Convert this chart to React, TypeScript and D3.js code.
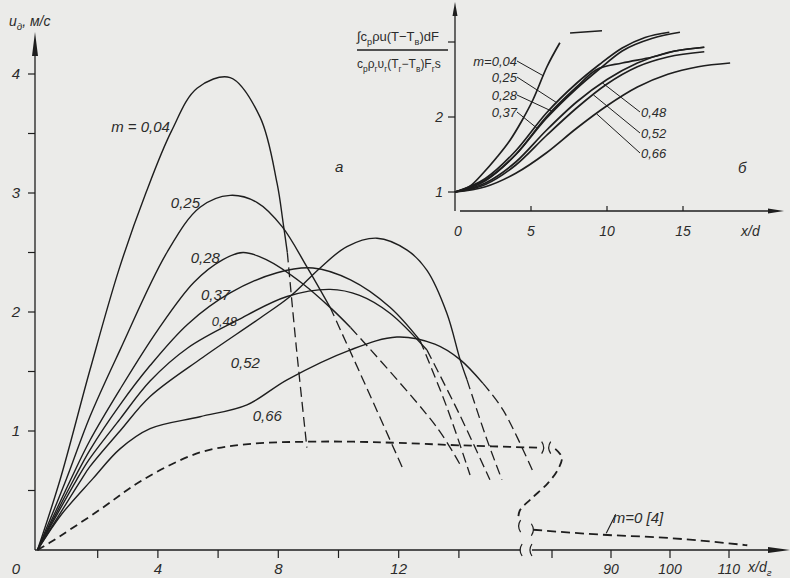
import * as d3 from 'd3';
import { useEffect, useRef } from 'react';

const W = 790;
const H = 578;
const bg = '#ebebe9';
const ink = '#1e1e1e';
const font = "'Liberation Sans', Arial, sans-serif";

type Pt = [number, number];

// main chart (а): u_д, m/s against x/d_г
const mLabels = ['m = 0,04', '0,25', '0,28', '0,37', '0,48', '0,52', '0,66'];
const m004: Pt[] = [[0, 0], [0.75, 0.59], [1.74, 1.51], [2.71, 2.36], [3.6, 3.0], [4.45, 3.52], [5.3, 3.88], [6.4, 3.97], [7.39, 3.64], [7.96, 3.08], [8.16, 2.75], [8.3, 2.5], [8.6, 1.7], [8.95, 0.86]];
const m025: Pt[] = [[0, 0], [0.95, 0.59], [1.74, 1.12], [2.74, 1.68], [4.3, 2.5], [5.4, 2.88], [6.4, 2.98], [7.3, 2.92], [8.12, 2.72], [8.95, 2.38], [9.72, 2.04], [10.71, 1.49], [12.18, 0.66]];
const m028: Pt[] = [[0, 0], [1.1, 0.59], [1.74, 0.92], [2.74, 1.35], [4, 1.85], [5.2, 2.25], [6.16, 2.44], [6.83, 2.5], [7.6, 2.44], [8.8, 2.24], [9.8, 2.02], [10.4, 1.87], [13.27, 1.03], [14.1, 0.69]];
const m037: Pt[] = [[0, 0], [1.2, 0.59], [1.74, 0.84], [2.74, 1.22], [3.74, 1.55], [5, 1.9], [6.4, 2.16], [7.96, 2.33], [9.15, 2.37], [10.4, 2.27], [11.71, 2.04], [12.71, 1.76], [13.6, 1.2], [14.37, 0.63]];
const m048: Pt[] = [[0, 0], [1.3, 0.59], [1.74, 0.77], [2.74, 1.1], [3.74, 1.42], [5, 1.7], [6.63, 1.93], [8.29, 2.13], [9.72, 2.19], [10.7, 2.14], [11.71, 1.99], [12.94, 1.68], [14, 1.15], [15.03, 0.59]];
const m052: Pt[] = [[0, 0], [1.45, 0.59], [1.74, 0.7], [2.74, 1.0], [3.74, 1.29], [5.5, 1.62], [7.4, 1.95], [8.39, 2.13], [9.39, 2.37], [10.28, 2.55], [11.28, 2.62], [12.28, 2.52], [12.94, 2.35], [13.6, 1.99], [14.04, 1.6], [14.27, 1.43], [14.9, 0.95], [15.43, 0.59]];
const m066: Pt[] = [[0, 0], [0.8, 0.3], [1.84, 0.6], [2.74, 0.85], [3.74, 1.02], [5.4, 1.12], [6.96, 1.22], [8.29, 1.43], [10.38, 1.68], [11.94, 1.79], [13.2, 1.73], [14.04, 1.6], [14.8, 1.4], [15.46, 1.18], [16.46, 0.66]];
const mainCurves = [m004, m025, m028, m037, m048, m052, m066];
// x/d_г where each solid line turns into dashes
const dashStart = [8.3, 9.72, 10.4, 12.71, 12.94, 14.27, 14.8];
// label anchor (end of text) in data units
const labelAt: Pt[] = [[4.4, 3.51], [5.4, 2.87], [6.06, 2.41], [6.4, 2.1], [6.63, 1.88], [7.39, 1.53], [8.12, 1.08]];

// m = 0 [4], dashed
const m0Near: Pt[] = [[0, 0], [0.4, 0.06], [2.08, 0.34], [3.5, 0.59], [5.4, 0.82], [7, 0.89], [8.95, 0.91], [10.5, 0.91], [12, 0.9], [14, 0.88], [16.6, 0.86]];
const m0Bridge: Pt[] = [[17.2, 0.85], [17.42, 0.78], [17.3, 0.68], [16.95, 0.56], [16.4, 0.43], [16.02, 0.33], [15.97, 0.25]];
const m0Far: Pt[] = [[76.8, 0.17], [88, 0.13], [100, 0.1], [113.1, 0.04]];

const xTicksLeft = [2, 4, 6, 8, 10, 12, 14];
const xLabelsLeft = [4, 8, 12];
const xTicksRight = [80, 90, 100, 110];
const xLabelsRight = [90, 100, 110];
const yTicks = [0.5, 1, 1.5, 2, 2.5, 3, 3.5, 4];
const yLabels = [1, 2, 3, 4];

// inset (б)
const iLabels = ['m=0,04', '0,25', '0,28', '0,37', '0,48', '0,52', '0,66'];
const i004: Pt[] = [[0, 1], [1, 1.08], [1.84, 1.25], [2.7, 1.45], [3.62, 1.69], [4.4, 1.95], [5.13, 2.23], [6.05, 2.67], [6.9, 2.99]];
const i004cap: Pt[] = [[7.57, 3.12], [9.67, 3.15]];
const i025: Pt[] = [[0, 1], [2, 1.18], [4, 1.55], [6, 2.05], [8, 2.45], [9.5, 2.7], [11, 2.92], [12.5, 3.06], [14.1, 3.13]];
const i028: Pt[] = [[0, 1], [2, 1.16], [4, 1.5], [6, 1.98], [8, 2.38], [9.5, 2.64], [11, 2.88], [13, 3.05], [14.8, 3.13]];
const i037: Pt[] = [[0, 1], [2, 1.15], [4, 1.5], [6, 2.0], [8, 2.4], [9.3, 2.63], [11, 2.72], [13, 2.8], [14.5, 2.88], [16.4, 2.93]];
const i048: Pt[] = [[0, 1], [2, 1.12], [4, 1.4], [6, 1.82], [8, 2.2], [10, 2.5], [12, 2.72], [14, 2.86], [16.4, 2.93]];
const i052: Pt[] = [[0, 1], [2, 1.1], [4, 1.36], [6, 1.75], [8, 2.12], [10, 2.44], [12, 2.67], [14, 2.8], [16.4, 2.87]];
const i066: Pt[] = [[0, 1], [2, 1.07], [4, 1.25], [6, 1.52], [8, 1.85], [10, 2.15], [12, 2.4], [14, 2.57], [16, 2.67], [18.1, 2.72]];
const insetCurves = [i004, i025, i028, i037, i048, i052, i066];
// where each leader line touches its curve (x/d)
const leaderX = [5.8, 6.7, 6.45, 5.4, 9.7, 9.1, 9.3];
const iXTicks = [5, 10, 15];
const iXLabels = [0, 5, 10, 15];
const iYTicks = [1, 2, 3];
const iYLabels = [1, 2];

type Part = [string, boolean];

const interp = (pts: Pt[], xv: number) => {
  for (let i = 1; i < pts.length; i++) {
    if (xv <= pts[i][0]) {
      const [x0, y0] = pts[i - 1];
      const [x1, y1] = pts[i];
      return y0 + ((y1 - y0) * (xv - x0)) / (x1 - x0);
    }
  }
  return pts[pts.length - 1][1];
};

export default function App() {
  const ref = useRef<SVGSVGElement>(null);

  useEffect(() => {
    drawChart();
  }, []);

  const drawChart = () => {
    const svg = d3.select(ref.current);
    svg.selectAll('*').remove();
    svg.append('rect').attr('width', W).attr('height', H).attr('fill', bg);

    const g = svg.append('g').attr('font-family', font).attr('font-style', 'italic').attr('fill', '#2b2b2b');

    const rich = (x: number, yy: number, parts: Part[], size: number, anchor = 'start') => {
      const t = g.append('text').attr('x', x).attr('y', yy).attr('font-size', size).attr('text-anchor', anchor);
      let down = false;
      parts.forEach(([s, sub]) => {
        const ts = t.append('tspan').text(s);
        if (sub) {
          ts.attr('font-size', size * 0.7);
          if (!down) ts.attr('dy', size * 0.3);
          down = true;
        } else if (down) {
          ts.attr('dy', -size * 0.3);
          down = false;
        }
      });
      return t;
    };

    const arrow = (tipX: number, tipY: number, dir: 'up' | 'right', len: number, half: number) => {
      const p = dir === 'up'
        ? `M${tipX},${tipY} L${tipX - half},${tipY + len} L${tipX + half},${tipY + len} Z`
        : `M${tipX},${tipY} L${tipX - len},${tipY - half} L${tipX - len},${tipY + half} Z`;
      g.append('path').attr('d', p).attr('fill', ink);
    };

    // ---------- main chart ----------
    const x = d3.scaleLinear().domain([0, 16]).range([37.5, 519.1]);
    const xr = d3.scaleLinear().domain([80, 110]).range([552, 729]);
    const y = d3.scaleLinear().domain([0, 4]).range([550, 74]);
    const x0 = 35;
    const yAxis = y(0);

    // y axis
    g.append('line').attr('x1', x0).attr('x2', x0).attr('y1', yAxis).attr('y2', 45).attr('stroke', ink).attr('stroke-width', 1.3);
    arrow(x0, 32, 'up', 24, 3);
    yTicks.forEach((v) => {
      g.append('line').attr('x1', x0 - 7).attr('x2', x0).attr('y1', y(v)).attr('y2', y(v)).attr('stroke', ink).attr('stroke-width', 1.2);
    });
    yLabels.forEach((v) => {
      g.append('text').attr('x', 20).attr('y', y(v) + 5).attr('text-anchor', 'end').attr('font-size', 15).text(String(v));
    });
    rich(9, 26, [['u', false], ['д', true], [', м/с', false]], 14);

    // x axis, broken after 16
    g.append('line').attr('x1', x0).attr('x2', x(16.05)).attr('y1', yAxis).attr('y2', yAxis).attr('stroke', ink).attr('stroke-width', 1.3);
    g.append('line').attr('x1', xr(76.6)).attr('x2', 775).attr('y1', yAxis).attr('y2', yAxis).attr('stroke', ink).attr('stroke-width', 1.3);
    arrow(790, yAxis, 'right', 22, 3);
    const brk = (bx: number, by: number, flip: number) => {
      g.append('path').attr('d', `M${bx},${by - 6} Q${bx - 4 * flip},${by} ${bx},${by + 6}`).attr('fill', 'none').attr('stroke', ink).attr('stroke-width', 1.2);
    };
    brk(x(16.1), yAxis, 1);
    brk(xr(76.6), yAxis, 1);
    xTicksLeft.forEach((v) => {
      g.append('line').attr('x1', x(v)).attr('x2', x(v)).attr('y1', yAxis).attr('y2', yAxis + 8).attr('stroke', ink).attr('stroke-width', 1.2);
    });
    xTicksRight.forEach((v) => {
      g.append('line').attr('x1', xr(v)).attr('x2', xr(v)).attr('y1', yAxis).attr('y2', yAxis + 8).attr('stroke', ink).attr('stroke-width', 1.2);
    });
    g.append('text').attr('x', 16).attr('y', 574).attr('text-anchor', 'middle').attr('font-size', 15).text('0');
    xLabelsLeft.forEach((v) => {
      g.append('text').attr('x', x(v)).attr('y', 574).attr('text-anchor', 'middle').attr('font-size', 15).text(String(v));
    });
    xLabelsRight.forEach((v) => {
      g.append('text').attr('x', xr(v)).attr('y', 574).attr('text-anchor', 'middle').attr('font-size', 14).text(String(v));
    });
    rich(748, 572, [['x/d', false], ['г', true]], 14);

    // curves
    const line = d3
      .line<Pt>()
      .x((d) => x(d[0]))
      .y((d) => y(d[1]))
      .curve(d3.curveCatmullRom.alpha(0.5));

    mainCurves.forEach((pts, i) => {
      const solid = pts.filter((p) => p[0] <= dashStart[i]);
      const dashed = pts.filter((p) => p[0] >= dashStart[i]);
      g.append('path').attr('d', line(solid)).attr('fill', 'none').attr('stroke', ink).attr('stroke-width', 1.4);
      g.append('path').attr('d', line(dashed)).attr('fill', 'none').attr('stroke', ink).attr('stroke-width', 1.3).attr('stroke-dasharray', '10,5');
      g.append('text')
        .attr('x', x(labelAt[i][0]))
        .attr('y', y(labelAt[i][1]))
        .attr('text-anchor', 'end')
        .attr('font-size', i === 4 ? 13 : 15)
        .text(mLabels[i]);
    });

    // m = 0 [4]
    g.append('path').attr('d', line(m0Near)).attr('fill', 'none').attr('stroke', ink).attr('stroke-width', 1.8).attr('stroke-dasharray', '8,5');
    g.append('path')
      .attr('d', d3.line<Pt>().x((d) => x(d[0])).y((d) => y(d[1])).curve(d3.curveCatmullRom)(m0Bridge))
      .attr('fill', 'none').attr('stroke', ink).attr('stroke-width', 1.8).attr('stroke-dasharray', '8,5');
    g.append('path')
      .attr('d', d3.line<Pt>().x((d) => xr(d[0])).y((d) => y(d[1])).curve(d3.curveMonotoneX)(m0Far))
      .attr('fill', 'none').attr('stroke', ink).attr('stroke-width', 1.8).attr('stroke-dasharray', '9,5');
    brk(x(16.75), y(0.86), -1);
    brk(x(17.05), y(0.86), 1);
    brk(x(16.05), y(0.2), 1);
    brk(xr(76.5), y(0.17), -1);
    g.append('line').attr('x1', xr(89.2)).attr('y1', y(0.14)).attr('x2', xr(90.8)).attr('y2', y(0.3)).attr('stroke', ink).attr('stroke-width', 1.1);
    g.append('text').attr('x', xr(90.3)).attr('y', y(0.23)).attr('font-size', 15).text('m=0 [4]');

    g.append('text').attr('x', 335).attr('y', 172).attr('font-size', 15).text('а');

    // ---------- inset ----------
    const ix = d3.scaleLinear().domain([0, 15]).range([455, 683]);
    const iy = d3.scaleLinear().domain([1, 2]).range([192, 117]);
    const iAxisY = 211;

    g.append('line').attr('x1', ix(0)).attr('x2', ix(0)).attr('y1', iAxisY).attr('y2', 12).attr('stroke', ink).attr('stroke-width', 1.3);
    arrow(ix(0), 2, 'up', 14, 2.5);
    g.append('line').attr('x1', 460).attr('x2', 770).attr('y1', iAxisY).attr('y2', iAxisY).attr('stroke', ink).attr('stroke-width', 1.3);
    arrow(784, iAxisY, 'right', 16, 2.5);
    iYTicks.forEach((v) => {
      g.append('line').attr('x1', ix(0) - 7).attr('x2', ix(0)).attr('y1', iy(v)).attr('y2', iy(v)).attr('stroke', ink).attr('stroke-width', 1.2);
    });
    iYLabels.forEach((v) => {
      g.append('text').attr('x', 443).attr('y', iy(v) + 5).attr('text-anchor', 'end').attr('font-size', 14).text(String(v));
    });
    iXTicks.forEach((v) => {
      g.append('line').attr('x1', ix(v)).attr('x2', ix(v)).attr('y1', iAxisY - 5).attr('y2', iAxisY).attr('stroke', ink).attr('stroke-width', 1.2);
    });
    iXLabels.forEach((v) => {
      g.append('text').attr('x', ix(v) + (v === 0 ? 3 : 0)).attr('y', 236).attr('text-anchor', 'middle').attr('font-size', 14).text(String(v));
    });
    g.append('text').attr('x', 741).attr('y', 236).attr('font-size', 14).text('x/d');
    g.append('text').attr('x', 738).attr('y', 173).attr('font-size', 15).text('б');

    // ordinate title as a fraction
    rich(357, 41, [['∫c', false], ['p', true], ['ρu(T−T', false], ['в', true], [')dF', false]], 13).attr('font-style', 'normal');
    g.append('line').attr('x1', 357).attr('x2', 448).attr('y1', 50).attr('y2', 50).attr('stroke', ink).attr('stroke-width', 1.3);
    rich(357, 68, [['c', false], ['p', true], ['ρ', false], ['г', true], ['υ', false], ['г', true], ['(T', false], ['г', true], ['−T', false], ['в', true], [')F', false], ['г', true], ['s', false]], 12).attr('font-style', 'normal');

    const iline = d3
      .line<Pt>()
      .x((d) => ix(d[0]))
      .y((d) => iy(d[1]))
      .curve(d3.curveMonotoneX);
    insetCurves.forEach((pts) => {
      g.append('path').attr('d', iline(pts)).attr('fill', 'none').attr('stroke', ink).attr('stroke-width', 1.7);
    });
    g.append('path').attr('d', iline(i004cap)).attr('fill', 'none').attr('stroke', ink).attr('stroke-width', 1.7);

    // inset labels with leader lines
    const leftRows = [66, 82, 100, 117];
    const rightRows = [117, 138, 158];
    iLabels.forEach((lab, i) => {
      const tx = leaderX[i];
      const ty = interp(insetCurves[i], tx);
      if (i < 4) {
        const row = leftRows[i];
        g.append('text').attr('x', 517).attr('y', row).attr('text-anchor', 'end').attr('font-size', 13).text(lab);
        g.append('line').attr('x1', 517).attr('y1', row - 5).attr('x2', ix(tx)).attr('y2', iy(ty)).attr('stroke', ink).attr('stroke-width', 1);
      } else {
        const row = rightRows[i - 4];
        g.append('text').attr('x', 641).attr('y', row).attr('font-size', 13).text(lab);
        g.append('line').attr('x1', 640).attr('y1', row - 5).attr('x2', ix(tx)).attr('y2', iy(ty)).attr('stroke', ink).attr('stroke-width', 1);
      }
    });
  };

  return (
    <svg
      ref={ref}
      width={W}
      height={H}
      style={{ position: 'absolute', left: 0, top: 0 }}
    />
  );
}
